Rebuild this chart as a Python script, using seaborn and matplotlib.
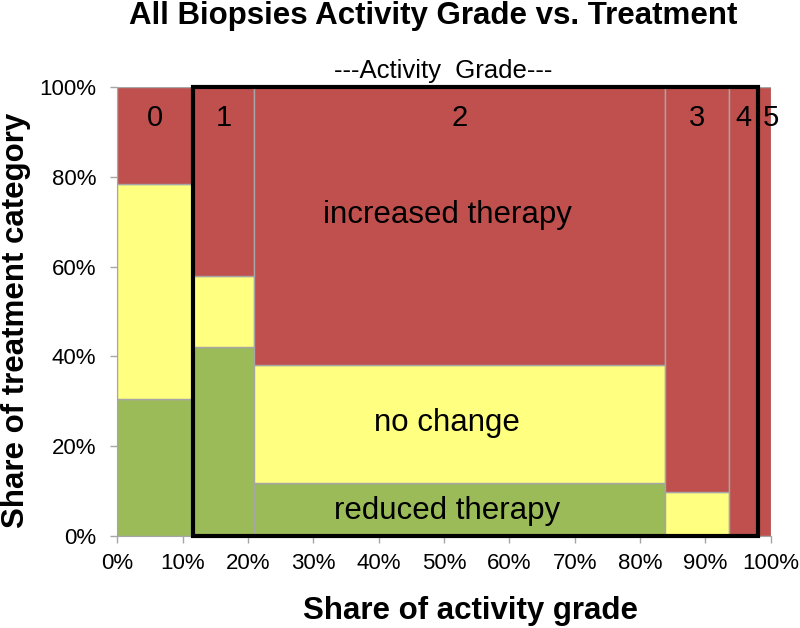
import numpy as np
import pandas as pd
import matplotlib
matplotlib.use("Agg")
import matplotlib.pyplot as plt
import matplotlib.patches as mpatches
from matplotlib.ticker import PercentFormatter, MultipleLocator
import seaborn as sns

# activity grade columns (width = share of all biopsies, %)
grades = ["0", "1", "2", "3", "4", "5"]
grade_share = [11.6, 9.3, 62.9, 9.8, 4.5, 1.9]

# treatment category shares within each grade (%)
treatments = ["increased therapy", "no change", "reduced therapy"]
increased = [21.6, 42.1, 61.9, 90.1, 100.0, 100.0]
no_change = [47.9, 15.9, 26.2, 9.9, 0.0, 0.0]
reduced = [30.5, 42.0, 11.9, 0.0, 0.0, 0.0]

colors = {"increased therapy": "#C0504D", "no change": "#FFFF80", "reduced therapy": "#9BBB59"}

edges = np.concatenate([[0], np.cumsum(grade_share)])
edges = edges / edges[-1] * 100
mids = (edges[:-1] + edges[1:]) / 2

rows = []
for i, g in enumerate(grades):
    for t, vals in zip(treatments, [increased, no_change, reduced]):
        rows.append({"grade": g, "x": mids[i], "treatment": t, "share": vals[i]})
df = pd.DataFrame(rows)

sns.set_style("white")
plt.rcParams["font.family"] = ["Liberation Sans", "DejaVu Sans"]
plt.rcParams["text.color"] = "black"
plt.rcParams["axes.labelcolor"] = "black"

fig = plt.figure(figsize=(8, 6.28), dpi=100)
ax = fig.add_axes([117.3 / 800, 1 - 536 / 628, 653.4 / 800, 449 / 628])

sns.histplot(data=df, x="x", weights="share", hue="treatment", hue_order=treatments,
             bins=[float(e) for e in edges], multiple="fill", palette=colors, alpha=1,
             edgecolor="#A6A6A6", linewidth=1, legend=False, ax=ax)

ax.set_xlim(0, 100)
ax.set_ylim(0, 1)
ax.xaxis.set_major_locator(MultipleLocator(10))
ax.yaxis.set_major_locator(MultipleLocator(0.2))
ax.xaxis.set_major_formatter(PercentFormatter(100, decimals=0))
ax.yaxis.set_major_formatter(PercentFormatter(1.0, decimals=0))
ax.tick_params(axis="both", labelsize=16, colors="#A6A6A6", labelcolor="black",
               direction="out", length=5, width=1, bottom=True, left=True)
ax.tick_params(axis="y", pad=10)
ax.tick_params(axis="x", pad=7)
sns.despine(ax=ax)
for s in ["left", "bottom"]:
    ax.spines[s].set_color("#A6A6A6")

ax.set_xlabel("Share of activity grade", fontsize=22.5, fontweight="bold")
ax.set_ylabel("Share of treatment category", fontsize=22.5, fontweight="bold")
ax.xaxis.set_label_coords(0.54, -0.133)
ax.yaxis.set_label_coords(-0.132, 0.48)

# black frame around grades 1-4
ax.add_patch(mpatches.Rectangle((edges[1], 0), edges[5] - edges[1], 1, fill=False,
                                edgecolor="black", linewidth=3, clip_on=False, zorder=5))

# grade labels at top of each column
for i, g in enumerate(grades):
    xo = 1.0 if g == "5" else 0
    ax.text(mids[i] + xo, 0.931, g, ha="center", va="center", fontsize=21, zorder=6)

ax.text(50.5, 0.715, "increased therapy", ha="center", va="center", fontsize=22.5)
ax.text(50.5, 0.252, "no change", ha="center", va="center", fontsize=22.5)
ax.text(50.5, 0.056, "reduced therapy", ha="center", va="center", fontsize=22.5)

ax.text(49.8, 1.02, "---Activity  Grade---", ha="center", va="baseline", fontsize=18.5)
fig.text(433.5 / 800, 1 - 24 / 628, "All Biopsies Activity Grade vs. Treatment",
         ha="center", va="baseline", fontsize=22.5, fontweight="bold")

fig.savefig("out.png", dpi=100)
